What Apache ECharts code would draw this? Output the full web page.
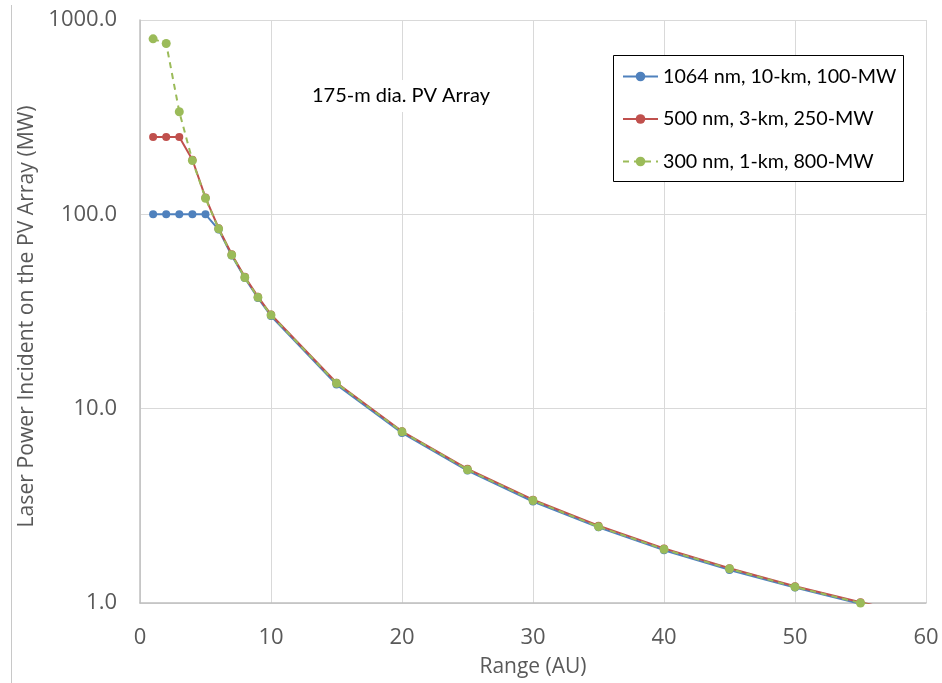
<!DOCTYPE html>
<html>
<head>
<meta charset="utf-8">
<script src="https://cdn.jsdelivr.net/npm/echarts@6/dist/echarts.min.js"></script>
<style>
  html, body { margin: 0; padding: 0; background: #ffffff; }
  #chart { width: 942px; height: 683px; }
</style>
</head>
<body>
<div id="chart"></div>
<script>
// Range from the Sun (AU)
const rangeAU = [1, 2, 3, 4, 5, 6, 7, 8, 9, 10, 15, 20, 25, 30, 35, 40, 45, 50, 55, 60];

// Laser power incident on a 175-m PV array (MW)
const power1064 = [100, 100, 100, 100, 100, 83.5, 61.4, 47.0, 37.1, 30.0, 13.3, 7.50, 4.80, 3.33, 2.45, 1.87, 1.48, 1.20, 0.99, 0.83];
const power500  = [250, 250, 250, 191, 122, 84.8, 62.3, 47.7, 37.7, 30.5, 13.6, 7.65, 4.90, 3.40, 2.50, 1.91, 1.51, 1.22, 1.01, 0.84];
const power300  = [800, 757, 337, 189, 121, 84.2, 61.8, 47.3, 37.4, 30.3, 13.5, 7.60, 4.85, 3.37, 2.47, 1.89, 1.50, 1.21, 1.00, 0.84];

const seriesNames = ['1064 nm, 10-km, 100-MW', '500 nm, 3-km, 250-MW', '300 nm, 1-km, 800-MW'];
const xTitle = 'Range (AU)';
const yTitle = 'Laser Power Incident on the PV Array (MW)';
const noteText = '175-m dia. PV Array';

const pairs = (ys) => rangeAU.map((x, i) => [x, ys[i]]);

const chart = echarts.init(document.getElementById('chart'), null, { renderer: 'canvas' });

const axisFont = 'Open Sans';
const boxFont = 'Lato';

chart.setOption({
  animation: false,
  backgroundColor: '#ffffff',
  grid: { left: 140, right: 16, top: 20, bottom: 79, containLabel: false },
  xAxis: {
    type: 'value',
    min: 0, max: 60, interval: 10,
    name: xTitle,
    nameLocation: 'middle',
    nameGap: 54,
    nameTextStyle: { color: '#595959', fontSize: 21, fontFamily: axisFont },
    axisLine: { show: true, lineStyle: { color: '#BFBFBF', width: 1.5 } },
    axisTick: { show: false },
    axisLabel: { color: '#595959', fontSize: 22, fontFamily: axisFont, margin: 24 },
    splitLine: { show: true, lineStyle: { color: '#D9D9D9', width: 1 } }
  },
  yAxis: {
    type: 'log',
    logBase: 10,
    min: 1, max: 1000,
    name: yTitle,
    nameLocation: 'middle',
    nameGap: 100,
    nameRotate: 90,
    nameTextStyle: { color: '#595959', fontSize: 21.2, fontFamily: axisFont, padding: [0, 10, 0, 0] },
    axisLine: { show: true, lineStyle: { color: '#BFBFBF', width: 1.5 } },
    axisTick: { show: false },
    minorTick: { show: false },
    axisLabel: {
      color: '#595959', fontSize: 22, fontFamily: axisFont, margin: 23,
      formatter: (v) => Number(v).toFixed(1)
    },
    splitLine: { show: true, lineStyle: { color: '#D9D9D9', width: 1 } }
  },
  legend: {
    orient: 'vertical',
    left: 622, top: 66.5,
    z: 100,
    itemWidth: 35, itemHeight: 12,
    itemGap: 22.5,
    padding: 0,
    textStyle: { color: '#000000', fontSize: 19.7, fontFamily: boxFont, lineHeight: 20 },
    data: seriesNames
  },
  graphic: [
    {
      type: 'line', silent: true,
      shape: { x1: 11.5, y1: 5, x2: 11.5, y2: 683 },
      style: { stroke: '#C8C8C8', lineWidth: 1 }
    },
    {
      type: 'rect', silent: true, z: 40,
      shape: { x: 613.5, y: 55.5, width: 290, height: 126 },
      style: { fill: '#ffffff', stroke: '#000000', lineWidth: 1 }
    },
    {
      type: 'text', silent: true, z: 50,
      left: 302, top: 80,
      style: {
        text: noteText, fill: '#000000', fontSize: 20, fontFamily: boxFont,
        backgroundColor: '#ffffff', padding: [6, 10, 6, 10]
      }
    }
  ],
  series: [
    {
      name: seriesNames[0], type: 'line', data: pairs(power1064),
      clip: true, symbol: 'circle', symbolSize: 8, showSymbol: true,
      itemStyle: { color: '#4F81BD' },
      lineStyle: { color: '#4F81BD', width: 2 },
      z: 2
    },
    {
      name: seriesNames[1], type: 'line', data: pairs(power500),
      clip: true, symbol: 'circle', symbolSize: 8, showSymbol: true,
      itemStyle: { color: '#C0504D' },
      lineStyle: { color: '#C0504D', width: 2 },
      z: 3
    },
    {
      name: seriesNames[2], type: 'line', data: pairs(power300),
      clip: true, symbol: 'circle', symbolSize: 9, showSymbol: true,
      itemStyle: { color: '#9BBB59' },
      lineStyle: { color: '#9BBB59', width: 2, type: [6, 5] },
      z: 4
    }
  ]
});
</script>
</body>
</html>
